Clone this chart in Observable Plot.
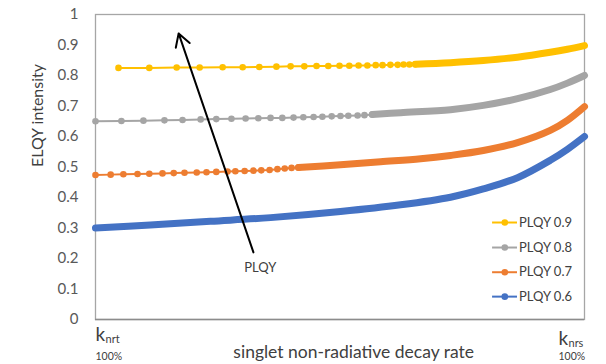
<!DOCTYPE html>
<html>
<head>
<meta charset="utf-8">
<script src="https://cdn.jsdelivr.net/npm/d3@7"></script>
<script src="https://cdn.jsdelivr.net/npm/@observablehq/plot@0.6"></script>
<style>
  html, body { margin: 0; padding: 0; background: #fff; }
  #chart { width: 606px; height: 364px; overflow: hidden; }
  svg { font-family: Lato, "Open Sans", sans-serif; }
</style>
</head>
<body>
<div id="chart"></div>
<script>
// ---- data (x: % of singlet non-radiative decay rate axis, y: ELQY intensity) ----
const seriesNames = ["PLQY 0.9", "PLQY 0.8", "PLQY 0.7", "PLQY 0.6"];
const seriesColors = ["#FFC000", "#A5A5A5", "#ED7D31", "#4472C4"];

// sparse (individually visible) markers
const yellowX = [4.7, 11.0, 16.6, 21.3, 26.0, 30.1, 33.5, 37.0, 39.9, 42.7, 45.2, 47.6, 49.9, 51.9, 53.8, 55.6, 57.3, 58.7, 60.3, 61.8, 63.0, 64.2, 65.4];
const yellowY = [0.825, 0.825, 0.826, 0.826, 0.827, 0.827, 0.828, 0.829, 0.830, 0.830, 0.831, 0.831, 0.832, 0.832, 0.833, 0.833, 0.834, 0.834, 0.835, 0.835, 0.836, 0.836, 0.837];
const grayX = [0, 5.3, 9.8, 14.1, 17.8, 21.5, 24.7, 27.8, 30.7, 33.3, 35.8, 38.2, 40.5, 42.5, 44.6, 46.4, 48.3, 50.1, 51.7, 53.6, 55.0, 56.6];
const grayY = [0.650, 0.651, 0.652, 0.653, 0.654, 0.656, 0.657, 0.658, 0.659, 0.660, 0.661, 0.661, 0.662, 0.663, 0.664, 0.665, 0.666, 0.667, 0.668, 0.669, 0.670, 0.672];
const orangeX = [0, 3.1, 5.7, 8.6, 11.0, 13.7, 16.0, 18.2, 20.7, 22.7, 24.7, 27.0, 28.6, 30.5, 32.3, 33.9, 35.6, 37.2, 38.7, 40.1, 41.5];
const orangeY = [0.474, 0.475, 0.476, 0.477, 0.478, 0.479, 0.480, 0.481, 0.482, 0.483, 0.484, 0.485, 0.486, 0.487, 0.488, 0.489, 0.490, 0.493, 0.495, 0.497, 0.498];
const blueX = [];
const blueY = [];

// dense part (markers merge into a solid band)
const yellowDenseX = [65.4, 72.6, 79.3, 86.3, 93.0, 96.5, 100];
const yellowDenseY = [0.837, 0.842, 0.849, 0.860, 0.876, 0.886, 0.898];
const grayDenseX = [56.6, 62.4, 72.6, 79.3, 86.3, 93.0, 96.5, 100];
const grayDenseY = [0.672, 0.678, 0.688, 0.702, 0.724, 0.754, 0.775, 0.800];
const orangeDenseX = [41.5, 50.1, 58.3, 66.5, 72.6, 79.3, 86.3, 93.0, 96.5, 100];
const orangeDenseY = [0.498, 0.507, 0.517, 0.527, 0.538, 0.554, 0.580, 0.620, 0.653, 0.698];
const blueDenseX = [0, 11.2, 23.5, 35.8, 50.1, 62.4, 72.6, 79.3, 86.3, 93.0, 96.5, 100];
const blueDenseY = [0.300, 0.310, 0.322, 0.334, 0.354, 0.376, 0.401, 0.428, 0.465, 0.522, 0.558, 0.600];

const yTicks = [0, 0.1, 0.2, 0.3, 0.4, 0.5, 0.6, 0.7, 0.8, 0.9, 1];
const yTickLabels = ["0", "0.1", "0.2", "0.3", "0.4", "0.5", "0.6", "0.7", "0.8", "0.9", "1"];

// annotation arrow (tail -> head) and its label
const arrowX = [32.3, 17.0];
const arrowY = [0.220, 0.938];
const arrowLabel = "PLQY";
const arrowLabelX = 33.7;
const arrowLabelY = 0.169;

const xTitle = "singlet non-radiative decay rate";
const yTitle = "ELQY intensity";

// ---- build tables ----
const sparse = [[yellowX, yellowY], [grayX, grayY], [orangeX, orangeY], [blueX, blueY]];
const dense = [[yellowDenseX, yellowDenseY], [grayDenseX, grayDenseY], [orangeDenseX, orangeDenseY], [blueDenseX, blueDenseY]];
const sparseRows = [], denseRows = [];
seriesNames.forEach((s, i) => {
  sparse[i][0].forEach((x, j) => sparseRows.push({s, x, y: sparse[i][1][j]}));
  dense[i][0].forEach((x, j) => denseRows.push({s, x, y: dense[i][1][j]}));
});
const tickRows = yTicks.map((v, i) => ({v, label: yTickLabels[i]}));
const arrowRow = [{x1: arrowX[0], y1: arrowY[0], x2: arrowX[1], y2: arrowY[1]}];

// legend layout (drawn in data space, inside the frame)
const legendY = [0.318, 0.236, 0.155, 0.075];
const legendRows = seriesNames.map((s, i) => ({s, y: legendY[i]}));

const color = {domain: seriesNames, range: seriesColors};
const textFill = "#404040";

const plot = Plot.plot({
  width: 606,
  height: 364,
  marginLeft: 95,
  marginRight: 22,
  marginTop: 14,
  marginBottom: 45,
  style: {fontFamily: "Lato, 'Open Sans', sans-serif", background: "#fff"},
  x: {domain: [0, 100], axis: null},
  y: {domain: [0, 1], axis: null},
  color,
  marks: [
    Plot.frame({stroke: "#a6a6a6", strokeWidth: 1.3}),
    Plot.ruleY([0], {stroke: "#8c8c8c", strokeWidth: 1.3}),
    // y tick labels
    Plot.text(tickRows, {x: 0, y: "v", text: "label", textAnchor: "end", dx: -17, fontSize: 15, fill: "#595959"}),
    // thin connecting lines for sparse markers
    Plot.line(sparseRows, {x: "x", y: "y", z: "s", stroke: "s", strokeWidth: 2}),
    // dense band
    Plot.line(denseRows, {x: "x", y: "y", z: "s", stroke: "s", strokeWidth: 7, strokeLinecap: "round", curve: "catmull-rom"}),
    // markers
    Plot.dot(sparseRows, {x: "x", y: "y", fill: "s", r: 3.3, stroke: null}),
    // annotation arrow
    Plot.arrow(arrowRow, {x1: "x1", y1: "y1", x2: "x2", y2: "y2", stroke: "#000", strokeWidth: 2, headLength: 11, insetEnd: 0, insetStart: 0}),
    Plot.text([arrowLabel], {x: arrowLabelX, y: arrowLabelY, text: d => d, fontSize: 13, fill: textFill}),
    // legend
    Plot.ruleY(legendRows, {x1: 81.2, x2: 86.3, y: "y", stroke: "s", strokeWidth: 2}),
    Plot.dot(legendRows, {x: 83.7, y: "y", fill: "s", r: 3.3}),
    Plot.text(legendRows, {x: 86.6, y: "y", text: "s", textAnchor: "start", fontSize: 13, fill: textFill}),
    // x-end labels
    Plot.text(["k"], {x: 0, y: 0, text: d => d, textAnchor: "start", dy: 15, fontSize: 19, fill: textFill}),
    Plot.text(["nrt"], {x: 0, y: 0, text: d => d, textAnchor: "start", dx: 10, dy: 20, fontSize: 11, fill: textFill}),
    Plot.text(["100%"], {x: 0, y: 0, text: d => d, textAnchor: "start", dy: 37, fontSize: 10.5, fill: textFill}),
    Plot.text(["k"], {x: 100, y: 0, text: d => d, textAnchor: "start", dx: -26, dy: 19, fontSize: 19, fill: textFill}),
    Plot.text(["nrs"], {x: 100, y: 0, text: d => d, textAnchor: "start", dx: -16, dy: 24, fontSize: 11, fill: textFill}),
    Plot.text(["100%"], {x: 100, y: 0, text: d => d, textAnchor: "start", dx: -26, dy: 37, fontSize: 10.5, fill: textFill}),
    // axis titles
    Plot.text([xTitle], {x: 52.8, y: 0, text: d => d, dy: 33, fontSize: 17.5, fill: textFill}),
    Plot.text([yTitle], {frameAnchor: "left", text: d => d, rotate: -90, dx: -58, fontSize: 16, fill: textFill})
  ]
});
document.getElementById("chart").appendChild(plot);
</script>
</body>
</html>
